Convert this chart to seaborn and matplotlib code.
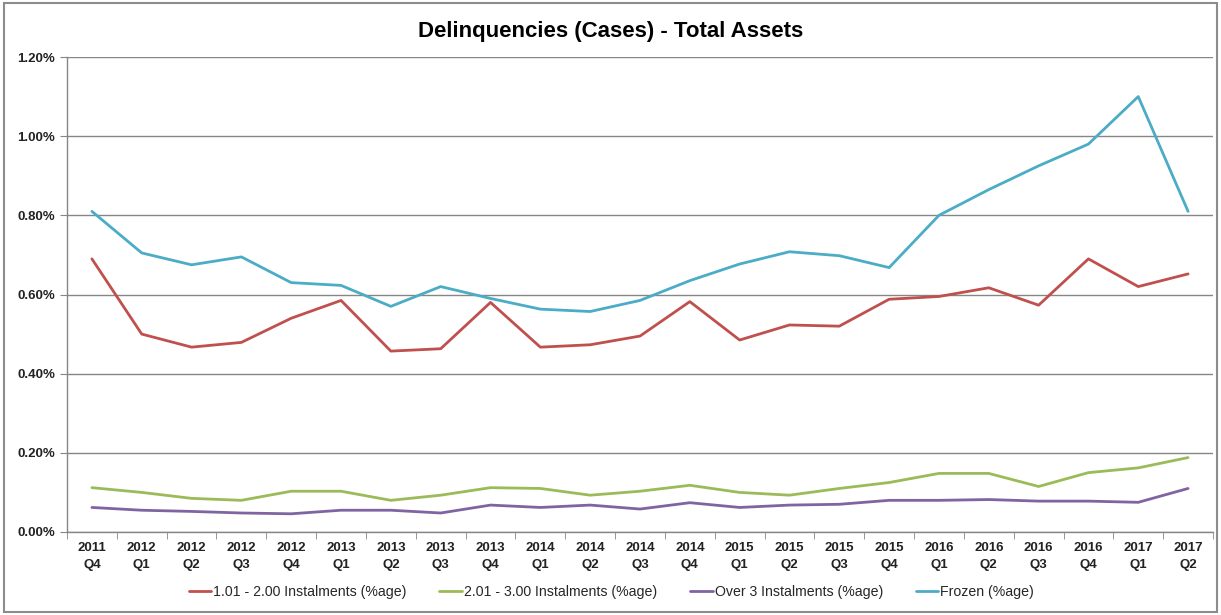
import pandas as pd
import seaborn as sns
import matplotlib.pyplot as plt
from matplotlib.patches import Rectangle
from matplotlib.ticker import PercentFormatter, FixedLocator, NullFormatter

# quarters
quarters = ["2011\nQ4", "2012\nQ1", "2012\nQ2", "2012\nQ3", "2012\nQ4", "2013\nQ1",
            "2013\nQ2", "2013\nQ3", "2013\nQ4", "2014\nQ1", "2014\nQ2", "2014\nQ3",
            "2014\nQ4", "2015\nQ1", "2015\nQ2", "2015\nQ3", "2015\nQ4", "2016\nQ1",
            "2016\nQ2", "2016\nQ3", "2016\nQ4", "2017\nQ1", "2017\nQ2"]

# values in %
inst_1_2 = [0.690, 0.500, 0.467, 0.479, 0.540, 0.585, 0.457, 0.463, 0.580, 0.467, 0.473, 0.495,
            0.582, 0.485, 0.523, 0.520, 0.588, 0.595, 0.617, 0.573, 0.690, 0.620, 0.652]
inst_2_3 = [0.112, 0.100, 0.085, 0.080, 0.103, 0.103, 0.080, 0.093, 0.112, 0.110, 0.093, 0.103,
            0.118, 0.100, 0.093, 0.110, 0.125, 0.148, 0.148, 0.115, 0.150, 0.162, 0.188]
over_3 = [0.062, 0.055, 0.052, 0.048, 0.046, 0.055, 0.055, 0.048, 0.068, 0.062, 0.068, 0.058,
          0.074, 0.062, 0.068, 0.070, 0.080, 0.080, 0.082, 0.078, 0.078, 0.075, 0.110]
frozen = [0.810, 0.705, 0.675, 0.695, 0.630, 0.623, 0.570, 0.620, 0.590, 0.563, 0.557, 0.585,
          0.635, 0.677, 0.708, 0.698, 0.668, 0.800, 0.865, 0.925, 0.980, 1.100, 0.810]

series_names = ["1.01 - 2.00 Instalments (%age)", "2.01 - 3.00 Instalments (%age)",
                "Over 3 Instalments (%age)", "Frozen (%age)"]
couleurs = ["#C0504D", "#9BBB59", "#8064A2", "#4BACC6"]

rows = []
for name, vals in zip(series_names, [inst_1_2, inst_2_3, over_3, frozen]):
    for i, v in enumerate(vals):
        rows.append({"pos": i, "value": v, "series": name})
df = pd.DataFrame(rows)

sns.set_style("white")
plt.rcParams['font.family'] = ['Liberation Sans', 'DejaVu Sans']

fig = plt.figure(figsize=(12.21, 6.15), dpi=100)
ax = fig.add_axes([67 / 1221, 1 - 532 / 615, (1213 - 67) / 1221, (532 - 57) / 615])

sns.lineplot(data=df, x="pos", y="value", hue="series", hue_order=series_names,
             palette=couleurs, linewidth=2, ax=ax, legend=True)

ax.set_xlim(-0.5, len(quarters) - 0.5)
ax.set_ylim(0, 1.2)
ax.yaxis.set_major_locator(FixedLocator([0, 0.2, 0.4, 0.6, 0.8, 1.0, 1.2]))
ax.yaxis.set_major_formatter(PercentFormatter(decimals=2))
ax.set_xticks(range(len(quarters)))
ax.set_xticklabels(quarters, fontsize=9.5, fontweight="bold", color="#222222", linespacing=1.55)
ax.xaxis.set_minor_locator(FixedLocator([i - 0.5 for i in range(len(quarters) + 1)]))
ax.xaxis.set_minor_formatter(NullFormatter())
ax.tick_params(axis="x", which="major", length=0, pad=7)
ax.tick_params(axis="x", which="minor", length=5, color="#868686", direction="out", bottom=True)
ax.tick_params(axis="y", length=5, color="#868686", direction="out", left=True,
               labelsize=9.5, labelcolor="#222222")
for lab in ax.get_yticklabels():
    lab.set_fontweight("bold")

ax.grid(axis="y", color="#868686", linewidth=1)
ax.set_axisbelow(True)
for side in ["top", "right"]:
    ax.spines[side].set_visible(False)
for side in ["left", "bottom"]:
    ax.spines[side].set_color("#868686")
    ax.spines[side].set_linewidth(1)
ax.set_xlabel("")
ax.set_ylabel("")

fig.suptitle("Delinquencies (Cases) - Total Assets", y=1 - 31 / 615, va="center",
             fontsize=16, fontweight="bold", color="black")

handles, labels = ax.get_legend_handles_labels()
ax.legend(handles, labels, loc="center", bbox_to_anchor=(0.475, -(592 - 532) / (532 - 57)),
          ncol=4, frameon=False, fontsize=10.2, handlelength=1.6, handletextpad=0.15,
          columnspacing=2.3)

# cadre gris autour du graphique
fig.patches.append(Rectangle((4 / 1221, 3 / 615), 1 - 8 / 1221, 1 - 6 / 615,
                             transform=fig.transFigure, fill=False,
                             edgecolor="#8c8c8c", linewidth=1.5))

plt.savefig("out.png", dpi=100)
